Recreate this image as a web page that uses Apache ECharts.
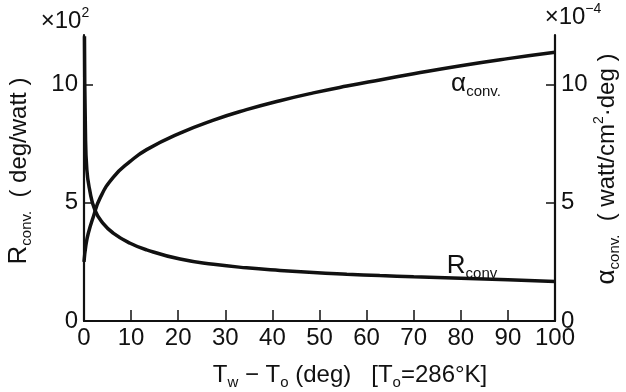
<!DOCTYPE html>
<html>
<head>
<meta charset="utf-8">
<script src="https://cdn.jsdelivr.net/npm/echarts@6/dist/echarts.min.js"></script>
<style>
  html, body { margin: 0; padding: 0; background: #fff; }
  #chart { width: 626px; height: 392px; }
</style>
</head>
<body>
<div id="chart"></div>
<script>
// Temperature difference Tw - To (deg) at which each curve is sampled
var tempDiffR = [0.1, 0.3, 0.6, 1.2, 2.3, 4.0, 6.2, 9.8, 13.3, 20.4, 27.5, 34.5, 41.6, 48.7, 55.8, 62.8, 70, 80, 90, 100];
// Convective thermal resistance R_conv (x10^2 deg/watt)
var rConv = [12.05, 8.09, 6.40, 5.55, 4.70, 4.14, 3.72, 3.29, 3.01, 2.62, 2.40, 2.25, 2.14, 2.05, 1.98, 1.92, 1.87, 1.81, 1.74, 1.67];

var tempDiffAlpha = [0, 0.4, 0.9, 2.0, 3.4, 6.2, 9.8, 13.3, 20.4, 27.5, 34.5, 41.6, 48.7, 55.8, 62.8, 70, 80, 90, 100];
// Convective heat transfer coefficient alpha_conv (x10^-4 watt/cm^2.deg)
var alphaConv = [2.5, 3.2, 3.7, 4.42, 5.2, 6.08, 6.75, 7.25, 7.95, 8.5, 8.94, 9.32, 9.65, 9.94, 10.2, 10.46, 10.8, 11.1, 11.37];

// Tick values
var xTicks = [0, 10, 20, 30, 40, 50, 60, 70, 80, 90, 100];
var yTicks = [0, 5, 10];

function pairs(xs, ys) {
  return xs.map(function (x, i) { return [x, ys[i]]; });
}

var FONT = '"Liberation Sans", Arial, sans-serif';
var INK = '#111';

var chart = echarts.init(document.getElementById('chart'));

var axisLine = { show: true, lineStyle: { color: INK, width: 2.2 } };
var tickStyle = { color: INK, width: 1.5 };
var tickFont = { color: INK, fontFamily: FONT, fontSize: 24 };

function yAxis(pos) {
  return {
    type: 'value',
    position: pos,
    min: 0,
    max: 12.1,
    interval: 5,
    axisLine: axisLine,
    splitLine: { show: false },
    axisTick: { show: true, inside: true, length: 9, lineStyle: tickStyle, customValues: yTicks },
    axisLabel: Object.assign({ margin: 6, customValues: yTicks }, tickFont)
  };
}

var rich = {
  t: { fontFamily: FONT, fontSize: 24, color: INK, lineHeight: 30 },
  big: { fontFamily: FONT, fontSize: 26, color: INK, lineHeight: 30 },
  sub: { fontFamily: FONT, fontSize: 15, color: INK, lineHeight: 30, verticalAlign: 'bottom' },
  sup: { fontFamily: FONT, fontSize: 14, color: INK, lineHeight: 30, verticalAlign: 'top' }
};

function label(x, y, text, rotation) {
  return {
    type: 'text',
    x: x,
    y: y,
    rotation: rotation || 0,
    style: {
      text: text,
      rich: rich,
      align: 'center',
      verticalAlign: 'middle',
      fill: INK
    }
  };
}

chart.setOption({
  backgroundColor: '#fff',
  animation: false,
  grid: { left: 84, right: 71, top: 35, bottom: 71, containLabel: false },
  xAxis: {
    type: 'value',
    min: 0,
    max: 100,
    interval: 10,
    axisLine: axisLine,
    splitLine: { show: false },
    axisTick: { show: true, inside: true, length: 11, lineStyle: tickStyle, customValues: xTicks },
    axisLabel: Object.assign({ margin: 5, customValues: xTicks }, tickFont)
  },
  yAxis: [yAxis('left'), yAxis('right')],
  series: [
    {
      name: 'Rconv',
      type: 'line',
      yAxisIndex: 0,
      data: pairs(tempDiffR, rConv),
      smooth: 0.5,
      showSymbol: false,
      lineStyle: { color: INK, width: 3.5 }
    },
    {
      name: 'alpha_conv',
      type: 'line',
      yAxisIndex: 1,
      data: pairs(tempDiffAlpha, alphaConv),
      smooth: 0.5,
      showSymbol: false,
      lineStyle: { color: INK, width: 3.5 }
    }
  ],
  graphic: [
    label(65, 21, '{t|×10}{sup|2}'),
    label(573, 17, '{t|×10}{sup|−4}'),
    label(19, 171, '{big|R}{sub|conv.}{t|  ( deg/watt )}', Math.PI / 2),
    label(607, 169, '{big|α}{sub|conv.}{t|  ( watt/cm}{sup|2}{t|·deg )}', Math.PI / 2),
    label(350, 375, '{t|T}{sub|w}{t| − T}{sub|o}{t| (deg)   [T}{sub|o}{t|=286°K]}'),
    label(476, 84, '{big|α}{sub|conv.}'),
    label(472, 266, '{big|R}{sub|conv}')
  ]
});
</script>
</body>
</html>
